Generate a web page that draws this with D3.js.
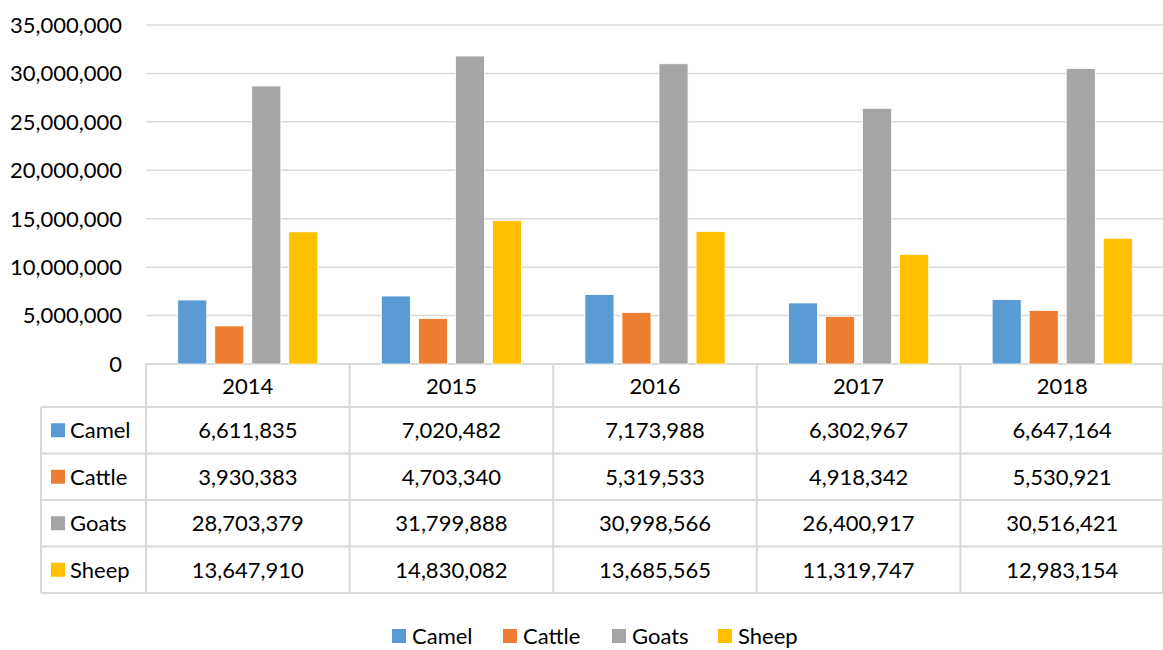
<!DOCTYPE html>
<html>
<head>
<meta charset="utf-8">
<script src="https://cdn.jsdelivr.net/npm/d3@7"></script>
<style>
  body { margin: 0; background: #fff; }
  svg text { font-family: Lato, "Open Sans", sans-serif; fill: #000; }
</style>
</head>
<body>
<div id="chart"></div>
<script>
// data
var years = ["2014", "2015", "2016", "2017", "2018"];
var seriesNames = ["Camel", "Cattle", "Goats", "Sheep"];
var camel = [6611835, 7020482, 7173988, 6302967, 6647164];
var cattle = [3930383, 4703340, 5319533, 4918342, 5530921];
var goats = [28703379, 31799888, 30998566, 26400917, 30516421];
var sheep = [13647910, 14830082, 13685565, 11319747, 12983154];
var yTicks = [0, 5000000, 10000000, 15000000, 20000000, 25000000, 30000000, 35000000];
var colors = ["#5B9BD5", "#ED7D31", "#A5A5A5", "#FFC000"];

var values = [camel, cattle, goats, sheep];

var width = 1163, height = 650;
var plotLeft = 146, plotRight = 1164, plotTop = 25, plotBottom = 364;
var tableLeft = 41, headerH = 43, rowH = 46.5;
var gridColor = "#D9D9D9";

var svg = d3.select("#chart")
  .append("svg")
    .attr("width", width)
    .attr("height", height);

var x0 = d3.scaleBand()
  .domain(years)
  .range([plotLeft, plotRight])
  .padding(0);

var x1 = d3.scaleBand()
  .domain(seriesNames)
  .range([0, x0.bandwidth()])
  .paddingInner(0.216)
  .paddingOuter(0.857);

var y = d3.scaleLinear()
  .domain([0, 35000000])
  .range([plotBottom, plotTop]);

var fmt = d3.format(",");

// gridlines
svg.append("g")
  .selectAll("line")
  .data(yTicks)
  .enter()
  .append("line")
    .attr("x1", plotLeft)
    .attr("x2", plotRight)
    .attr("y1", function(d) { return y(d); })
    .attr("y2", function(d) { return y(d); })
    .attr("stroke", gridColor)
    .attr("stroke-width", function(d) { return d === 0 ? 2 : 1.5; });

// y labels
svg.append("g")
  .selectAll("text")
  .data(yTicks)
  .enter()
  .append("text")
    .attr("x", 122)
    .attr("y", function(d) { return y(d); })
    .attr("dy", "0.36em")
    .attr("text-anchor", "end")
    .style("font-size", "22px")
    .text(function(d) { return fmt(d); });

// bars
var groups = svg.append("g")
  .selectAll("g")
  .data(years)
  .enter()
  .append("g")
    .attr("transform", function(d) { return "translate(" + x0(d) + ",0)"; });

groups.selectAll("rect")
  .data(function(d, i) {
    return seriesNames.map(function(s, j) { return {name: s, value: values[j][i], c: colors[j]}; });
  })
  .enter()
  .append("rect")
    .attr("x", function(d) { return x1(d.name); })
    .attr("width", x1.bandwidth())
    .attr("y", function(d) { return y(d.value); })
    .attr("height", function(d) { return y(0) - y(d.value); })
    .attr("fill", function(d) { return d.c; })
    .attr("stroke", "#fff")
    .attr("stroke-width", 0.8);

// data table
var tableTop = plotBottom;
var rowsTop = tableTop + headerH;
var tableBottom = rowsTop + rowH * seriesNames.length;
var table = svg.append("g");

// vertical lines
var vx = years.map(function(d) { return x0(d); }).concat([plotRight - 1]);
table.selectAll("line.v")
  .data(vx)
  .enter()
  .append("line")
    .attr("class", "v")
    .attr("x1", function(d) { return d; })
    .attr("x2", function(d) { return d; })
    .attr("y1", tableTop)
    .attr("y2", tableBottom)
    .attr("stroke", gridColor)
    .attr("stroke-width", 2);

table.append("line")
  .attr("x1", tableLeft).attr("x2", tableLeft)
  .attr("y1", rowsTop).attr("y2", tableBottom)
  .attr("stroke", gridColor).attr("stroke-width", 2);

// horizontal lines
var hy = d3.range(seriesNames.length + 1).map(function(i) { return rowsTop + i * rowH; });
table.selectAll("line.h")
  .data(hy)
  .enter()
  .append("line")
    .attr("class", "h")
    .attr("x1", tableLeft)
    .attr("x2", plotRight)
    .attr("y1", function(d) { return d; })
    .attr("y2", function(d) { return d; })
    .attr("stroke", gridColor)
    .attr("stroke-width", 2);

// header years
table.selectAll("text.year")
  .data(years)
  .enter()
  .append("text")
    .attr("class", "year")
    .attr("x", function(d) { return x0(d) + x0.bandwidth() / 2; })
    .attr("y", tableTop + headerH / 2 + 1)
    .attr("dy", "0.36em")
    .attr("text-anchor", "middle")
    .style("font-size", "22px")
    .text(function(d) { return d; });

// row keys and values
seriesNames.forEach(function(s, j) {
  var cy = rowsTop + j * rowH + rowH / 2;
  table.append("rect")
    .attr("x", 51).attr("y", cy - 7)
    .attr("width", 14).attr("height", 14)
    .attr("fill", colors[j]);
  table.append("text")
    .attr("x", 70).attr("y", cy)
    .attr("dy", "0.36em")
    .style("font-size", "22px")
    .text(s);
  table.selectAll("text.v" + j)
    .data(values[j])
    .enter()
    .append("text")
      .attr("x", function(d, i) { return x0(years[i]) + x0.bandwidth() / 2; })
      .attr("y", cy)
      .attr("dy", "0.36em")
      .attr("text-anchor", "middle")
      .style("font-size", "22px")
      .text(function(d) { return fmt(d); });
});

// legend
var legendX = [392, 503, 612, 718];
var legend = svg.append("g")
  .selectAll("g")
  .data(seriesNames)
  .enter()
  .append("g")
    .attr("transform", function(d, i) { return "translate(" + legendX[i] + ",636)"; });

legend.append("rect")
  .attr("x", 0).attr("y", -7)
  .attr("width", 14).attr("height", 14)
  .attr("fill", function(d, i) { return colors[i]; });

legend.append("text")
  .attr("x", 20)
  .attr("y", 0)
  .attr("dy", "0.36em")
  .style("font-size", "22px")
  .text(function(d) { return d; });
</script>
</body>
</html>
